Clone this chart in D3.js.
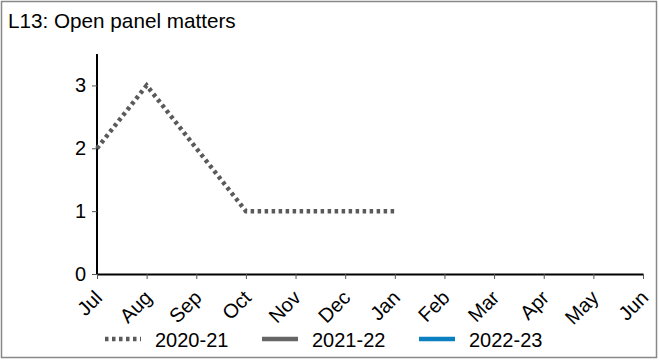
<!DOCTYPE html>
<html><head><meta charset="utf-8">
<script src="https://cdn.jsdelivr.net/npm/d3@7"></script>
<style>body{margin:0;background:#fff}svg{display:block;font-family:"Liberation Sans",Arial,sans-serif}</style>
</head><body><svg id="c" width="659" height="360"></svg>
<script>
const months = ["Jul","Aug","Sep","Oct","Nov","Dec","Jan","Feb","Mar","Apr","May","Jun"];
const s2020 = [2,3,2,1,1,1,1];
const s2021 = [];
const s2022 = [];
const seriesNames = ["2020-21","2021-22","2022-23"];
const yTicks = [0,1,2,3];

const svg = d3.select("#c");
svg.append("rect").attr("x",1.5).attr("y",1.5).attr("width",655).attr("height",356)
  .attr("fill","#fff").attr("stroke","#888").attr("stroke-width",1.5);
svg.append("text").attr("x",8).attr("y",28).attr("font-size",20.7).attr("fill","#000").text("L13: Open panel matters");

const x = d3.scalePoint().domain(months).range([97,643]);
const y = d3.scaleLinear().domain([0,3.5]).range([274,54]);

const gx = svg.append("g").attr("transform","translate(0,274)")
  .call(d3.axisBottom(x).tickSize(5).tickSizeOuter(0));
gx.select(".domain").attr("stroke","#000").attr("stroke-width",2);
gx.selectAll(".tick line").attr("stroke","#555");
gx.selectAll(".tick text").attr("font-size",20).attr("fill","#000")
  .attr("text-anchor","end").attr("dy",0).attr("y",0)
  .attr("transform","translate(6,25) rotate(-45)");

const gy = svg.append("g").attr("transform","translate(97,0)")
  .call(d3.axisLeft(y).tickValues(yTicks).tickFormat(d3.format("d")).tickSize(5).tickSizeOuter(0));
gy.select(".domain").attr("stroke","#000").attr("stroke-width",2);
gy.selectAll(".tick line").attr("stroke","#555");
gy.selectAll(".tick text").attr("font-size",20).attr("fill","#000").attr("x",-11);
gy.select(".domain").attr("d","M0,274V54");

const line = d3.line().x((d,i)=>x(months[i])).y(d=>y(d));
const styles = [
  {data:s2020, color:"#5a5a5a", dash:"3.5,3.5", w:4.5},
  {data:s2021, color:"#666666", dash:null, w:4.5},
  {data:s2022, color:"#0b7fc0", dash:null, w:4.5}
];
styles.forEach(s=>{
  if(!s.data.length) return;
  svg.append("path").datum(s.data).attr("d",line).attr("fill","none")
    .attr("stroke",s.color).attr("stroke-width",s.w).attr("stroke-dasharray",s.dash);
});

const legX = [105,262,419];
const lg = svg.append("g");
seriesNames.forEach((n,i)=>{
  lg.append("line").attr("x1",legX[i]).attr("x2",legX[i]+36).attr("y1",339).attr("y2",339)
    .attr("stroke",styles[i].color).attr("stroke-width",4.5).attr("stroke-dasharray",styles[i].dash);
  lg.append("text").attr("x",legX[i]+50).attr("y",347).attr("font-size",20).attr("fill","#000").text(n);
});
</script></body></html>
